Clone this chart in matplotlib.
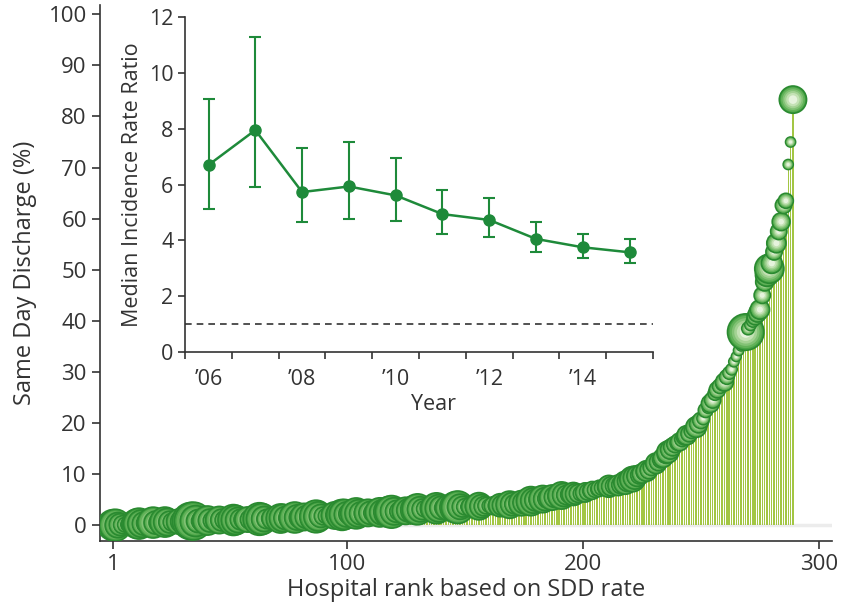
import matplotlib.pyplot as plt
import numpy as np

plt.rcParams['font.family'] = ['Open Sans', 'DejaVu Sans']

# same day discharge rate (%) per hospital, sorted by rank
sdd_rate = [
    0.0, 0.0, 0.0, 0.1, 0.1, 0.1, 0.1, 0.2, 0.2, 0.2,
    0.3, 0.3, 0.3, 0.3, 0.4, 0.4, 0.4, 0.5, 0.5, 0.5,
    0.5, 0.6, 0.6, 0.6, 0.6, 0.6, 0.7, 0.7, 0.7, 0.7,
    0.7, 0.7, 0.8, 0.8, 0.8, 0.8, 0.8, 0.8, 0.8, 0.9,
    0.9, 0.9, 0.9, 0.9, 0.9, 1.0, 1.0, 1.0, 1.0, 1.0,
    1.0, 1.0, 1.0, 1.0, 1.1, 1.1, 1.1, 1.1, 1.1, 1.1,
    1.2, 1.2, 1.2, 1.2, 1.2, 1.2, 1.3, 1.3, 1.3, 1.3,
    1.3, 1.3, 1.4, 1.4, 1.4, 1.4, 1.4, 1.5, 1.5, 1.5,
    1.5, 1.6, 1.6, 1.6, 1.6, 1.7, 1.7, 1.7, 1.8, 1.8,
    1.8, 1.8, 1.9, 1.9, 1.9, 2.0, 2.0, 2.0, 2.1, 2.1,
    2.2, 2.2, 2.2, 2.3, 2.3, 2.3, 2.3, 2.4, 2.4, 2.4,
    2.4, 2.5, 2.5, 2.5, 2.5, 2.6, 2.6, 2.6, 2.6, 2.7,
    2.7, 2.7, 2.8, 2.8, 2.8, 2.9, 2.9, 3.0, 3.0, 3.1,
    3.1, 3.1, 3.2, 3.2, 3.2, 3.3, 3.3, 3.3, 3.3, 3.4,
    3.4, 3.4, 3.4, 3.5, 3.5, 3.5, 3.5, 3.6, 3.6, 3.6,
    3.6, 3.6, 3.6, 3.7, 3.7, 3.7, 3.7, 3.7, 3.8, 3.8,
    3.8, 3.8, 3.8, 3.9, 3.9, 3.9, 3.9, 4.0, 4.0, 4.1,
    4.1, 4.2, 4.2, 4.3, 4.4, 4.5, 4.6, 4.7, 4.8, 4.9,
    5.0, 5.0, 5.1, 5.1, 5.2, 5.3, 5.4, 5.5, 5.6, 5.7,
    5.8, 5.9, 5.9, 6.0, 6.0, 6.1, 6.1, 6.2, 6.2, 6.3,
    6.4, 6.5, 6.7, 6.8, 6.9, 7.0, 7.2, 7.3, 7.4, 7.5,
    7.6, 7.6, 7.7, 7.7, 7.8, 7.9, 8.1, 8.3, 8.6, 8.8,
    9.0, 9.3, 9.6, 9.8, 10.1, 10.4, 10.6, 10.8, 11.3, 11.8,
    12.1, 12.4, 12.8, 13.2, 13.7, 14.3, 14.8, 15.3, 15.8, 16.1,
    16.3, 16.8, 17.3, 17.6, 17.9, 18.4, 18.9, 19.2, 19.8, 20.5,
    20.9, 22.5, 23.0, 23.8, 24.5, 25.8, 26.5, 27.2, 27.6, 28.0,
    29.0, 29.8, 30.5, 32.0, 33.0, 34.2, 35.0, 36.5, 37.8, 38.5,
    39.2, 40.0, 40.8, 41.5, 42.2, 45.0, 47.6, 49.0, 50.2, 51.3,
    53.5, 55.2, 57.5, 59.4, 62.6, 63.5, 70.6, 75.0, 83.3,
]

# hospital volume (bubble size)
volume = [
    900, 950, 600, 450, 300, 200, 150, 250, 180, 120,
    800, 900, 700, 500, 350, 250, 600, 900, 500, 300,
    250, 200, 850, 700, 450, 300, 200, 150, 600, 450,
    300, 200, 150, 1300, 1350, 900, 500, 300, 200, 600,
    800, 500, 300, 200, 150, 700, 450, 300, 200, 150,
    120, 900, 800, 600, 400, 300, 200, 600, 350, 250,
    150, 100, 1000, 900, 600, 350, 200, 150, 500, 300,
    200, 800, 700, 500, 300, 200, 150, 900, 600, 400,
    250, 700, 500, 300, 200, 150, 1000, 800, 500, 300,
    200, 150, 100, 80, 700, 500, 300, 900, 850, 600,
    400, 250, 150, 900, 700, 500, 300, 200, 700, 500,
    300, 200, 150, 800, 600, 400, 250, 900, 1000, 700,
    450, 300, 200, 150, 700, 500, 300, 200, 800, 900,
    600, 400, 250, 150, 100, 500, 300, 900, 700, 500,
    300, 200, 600, 400, 250, 900, 1000, 600, 400, 250,
    150, 100, 400, 300, 200, 700, 500, 350, 250, 150,
    100, 300, 200, 150, 500, 400, 250, 150, 700, 500,
    350, 200, 150, 600, 450, 300, 200, 800, 600, 450,
    300, 200, 700, 500, 350, 250, 600, 400, 300, 200,
    700, 500, 350, 250, 150, 500, 400, 300, 200, 150,
    350, 250, 200, 300, 200, 150, 250, 200, 150, 300,
    450, 350, 250, 200, 400, 300, 250, 500, 400, 300,
    600, 500, 400, 300, 350, 250, 400, 300, 250, 200,
    400, 300, 250, 350, 250, 450, 350, 300, 250, 200,
    300, 200, 250, 350, 250, 200, 150, 400, 300, 250,
    150, 200, 120, 300, 250, 180, 250, 200, 150, 300,
    200, 150, 120, 100, 90, 100, 80, 150, 1250, 150,
    120, 150, 250, 300, 350, 250, 300, 500, 800, 400,
    250, 350, 250, 300, 250, 210, 95, 95, 700,
]

rank = np.arange(1, len(sdd_rate) + 1)

# inset: median incidence rate ratio by year
years = [2006, 2007, 2008, 2009, 2010, 2011, 2012, 2013, 2014, 2015]
irr_median = [6.7, 7.95, 5.73, 5.93, 5.61, 4.94, 4.73, 4.05, 3.75, 3.57]
irr_low = [5.12, 5.92, 4.64, 4.78, 4.70, 4.23, 4.13, 3.59, 3.35, 3.19]
irr_high = [9.07, 11.28, 7.31, 7.51, 6.96, 5.82, 5.52, 4.64, 4.23, 4.04]
year_labels = ['\u201906', '\u201908', '\u201910', '\u201912', '\u201914']

dark = '#333333'
green = '#1e8a3a'

fig = plt.figure(figsize=(8.57, 6.11), dpi=100)
ax = fig.add_axes([0.1167, 0.1146, 0.854, 0.877])

ax.axhline(0, color='#ececec', lw=2.5, zorder=0)
ax.bar(rank, sdd_rate, width=0.6, color='#a3c644', edgecolor='none', zorder=1)

# shaded bubbles: each hospital gets stacked discs, drawn in rank order
layers = [(1.0, '#46a244', '#2a8a30', 1.2),
          (0.78, '#62b259', 'none', 0),
          (0.58, '#82c275', 'none', 0),
          (0.40, '#a3d293', 'none', 0),
          (0.24, '#c4e2b5', 'none', 0),
          (0.10, '#e6f3dd', 'none', 0)]
bx, by, bs, bf, be, bw = [], [], [], [], [], []
for r, v, vol in zip(rank, sdd_rate, volume):
    for k, fc, ec, lw in layers:
        bx.append(r)
        by.append(v)
        bs.append(vol * 0.55 * k)
        bf.append(fc)
        be.append(ec)
        bw.append(lw)
ax.scatter(bx, by, s=bs, c=bf, edgecolors=be, linewidths=bw, zorder=3)

ax.set_xlim(-4.5, 305.5)
ax.set_ylim(-3.1, 101.8)
ax.set_xticks([1, 100, 200, 300])
ax.set_yticks(np.arange(0, 101, 10))
ax.tick_params(colors=dark, labelsize=16, length=6, width=1.2, direction='out')
for s in ['top', 'right']:
    ax.spines[s].set_visible(False)
for s in ['left', 'bottom']:
    ax.spines[s].set_color(dark)
    ax.spines[s].set_linewidth(1.2)
ax.set_xlabel('Hospital rank based on SDD rate', fontsize=17, color=dark, labelpad=2)
ax.set_ylabel('Same Day Discharge (%)', fontsize=17, color=dark, labelpad=8)

# inset
ins = fig.add_axes([0.216, 0.424, 0.546, 0.548])
ins.patch.set_alpha(0)
ins.axhline(1, color=dark, lw=1.2, ls=(0, (4, 3)))
yerr = [np.array(irr_median) - np.array(irr_low), np.array(irr_high) - np.array(irr_median)]
ins.errorbar(years, irr_median, yerr=yerr, color=green, lw=1.8, marker='o', ms=8,
             capsize=4, capthick=1.5, elinewidth=1.5)
ins.set_xlim(2005.5, 2015.5)
ins.set_ylim(0, 12)
ins.set_yticks(np.arange(0, 13, 2))
ins.set_xticks([2006, 2008, 2010, 2012, 2014])
ins.set_xticklabels(year_labels)
ins.set_xticks(np.arange(2005.5, 2016, 1), minor=True)
ins.tick_params(axis='x', which='major', length=0, pad=12)
ins.tick_params(axis='x', which='minor', length=5, width=1.2, colors=dark)
ins.tick_params(axis='y', length=5, width=1.2)
ins.tick_params(colors=dark, labelsize=15.5)
for s in ['top', 'right']:
    ins.spines[s].set_visible(False)
for s in ['left', 'bottom']:
    ins.spines[s].set_color(dark)
    ins.spines[s].set_linewidth(1.2)
ins.set_ylabel('Median Incidence Rate Ratio', fontsize=15.5, color=dark, labelpad=4)
ins.set_xlabel('Year', fontsize=15.5, color=dark)
ins.xaxis.set_label_coords(0.53, -0.125)

fig.savefig('out.png', dpi=100)
